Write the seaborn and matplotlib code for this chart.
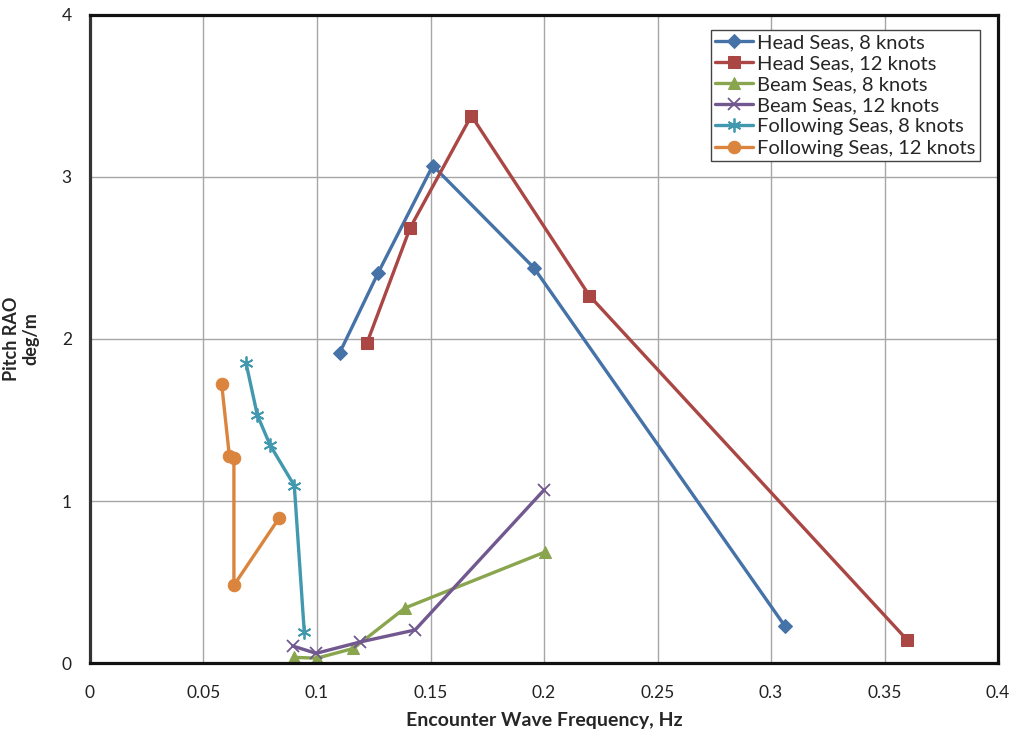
import pandas as pd
import matplotlib.pyplot as plt
import seaborn as sns

# ==========================
# Data
# ==========================

head8_freq = [0.110, 0.127, 0.151, 0.1955, 0.306]
head8_rao = [1.915, 2.41, 3.07, 2.44, 0.23]

head12_freq = [0.122, 0.141, 0.168, 0.220, 0.360]
head12_rao = [1.975, 2.685, 3.378, 2.267, 0.142]

beam8_freq = [0.090, 0.100, 0.116, 0.1388, 0.2004]
beam8_rao = [0.035, 0.03, 0.09, 0.34, 0.685]

beam12_freq = [0.0893, 0.0996, 0.119, 0.1432, 0.200]
beam12_rao = [0.105, 0.06, 0.13, 0.204, 1.068]

follow8_freq = [0.0687, 0.0737, 0.0793, 0.090, 0.0944]
follow8_rao = [1.854, 1.531, 1.346, 1.095, 0.19]

follow12_freq = [0.058, 0.0614, 0.0634, 0.0634, 0.0834]
follow12_rao = [1.722, 1.278, 1.264, 0.48, 0.897]

series_names = [
    "Head Seas, 8 knots",
    "Head Seas, 12 knots",
    "Beam Seas, 8 knots",
    "Beam Seas, 12 knots",
    "Following Seas, 8 knots",
    "Following Seas, 12 knots",
]

series_data = [
    (head8_freq, head8_rao),
    (head12_freq, head12_rao),
    (beam8_freq, beam8_rao),
    (beam12_freq, beam12_rao),
    (follow8_freq, follow8_rao),
    (follow12_freq, follow12_rao),
]

colors = ["#4572A7", "#AA4643", "#89A54E", "#71588F", "#4198AF", "#DB843D"]
markers = ["D", "s", "^", "x", (6, 2, 0), "o"]
marker_sizes = [7, 9, 9, 9, 10, 9]

x_ticks = [0, 0.05, 0.1, 0.15, 0.2, 0.25, 0.3, 0.35, 0.4]
x_tick_labels = ["0", "0.05", "0.1", "0.15", "0.2", "0.25", "0.3", "0.35", "0.4"]
y_ticks = [0, 1, 2, 3, 4]

# ==========================
# Plot
# ==========================

sns.set_style("whitegrid")
plt.rcParams["font.family"] = ["Lato", "DejaVu Sans"]

fig = plt.figure(figsize=(10.18, 7.39), dpi=100)
ax = fig.add_axes([0.0884, 0.1028, 0.892, 0.877])

for name, (fx, fy), c, m, ms in zip(series_names, series_data, colors, markers, marker_sizes):
    df = pd.DataFrame({"freq": fx, "rao": fy})
    line_marker_kw = dict(
        marker=m,
        markersize=ms,
        markeredgecolor=c,
        markerfacecolor=c,
    )
    if m in ("x", (6, 2, 0)):
        line_marker_kw["markeredgewidth"] = 1.3
    sns.lineplot(
        data=df,
        x="freq",
        y="rao",
        sort=False,
        estimator=None,
        color=c,
        linewidth=2.4,
        label=name,
        ax=ax,
        **line_marker_kw
    )

ax.set_xlim(0, 0.4)
ax.set_ylim(0, 4)
ax.set_xticks(x_ticks)
ax.set_xticklabels(x_tick_labels)
ax.set_yticks(y_ticks)

ax.grid(True, color="#A6A6A6", linewidth=1.0)
ax.tick_params(axis="both", labelsize=12.5, colors="#222222", length=5,
               width=1, direction="out", color="#888888", pad=8)
ax.tick_params(axis="x", pad=11)

for side in ["left", "bottom", "top", "right"]:
    ax.spines[side].set_visible(True)
    ax.spines[side].set_color("#111111")
    ax.spines[side].set_linewidth(2.3)
ax.spines["left"].set_color("#333333")

ax.set_xlabel("Encounter Wave Frequency, Hz", fontsize=14, fontweight="bold", labelpad=8)
ax.set_ylabel("Pitch RAO\ndeg/m", fontsize=13, fontweight="bold", labelpad=16,
              multialignment="center")

leg = ax.legend(
    loc="upper right",
    bbox_to_anchor=(0.98, 0.977),
    fontsize=14.5,
    frameon=True,
    fancybox=False,
    edgecolor="#444444",
    framealpha=1,
    handlelength=1.9,
    handletextpad=0.2,
    labelspacing=0.2,
    borderpad=0.2,
    borderaxespad=0,
)
leg.get_frame().set_linewidth(1.0)

plt.savefig("out.png", dpi=100)
plt.close()
